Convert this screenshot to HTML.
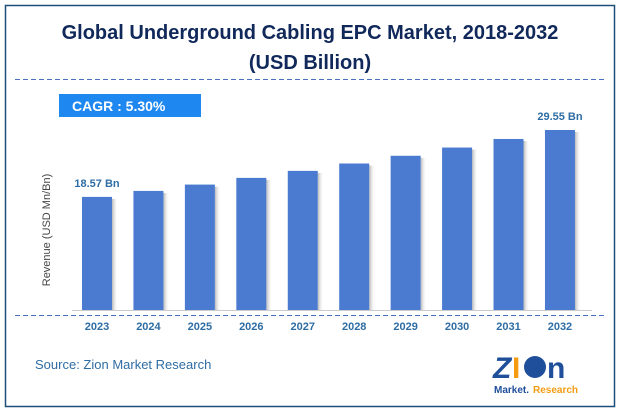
<!DOCTYPE html>
<html><head><meta charset="utf-8"><style>
body{margin:0;background:#fff;width:620px;height:412px;overflow:hidden;font-family:"Liberation Sans",sans-serif}
</style></head><body>
<svg width="620" height="412" viewBox="0 0 620 412">
<defs><linearGradient id="sh" x1="0" x2="1"><stop offset="0" stop-color="#888" stop-opacity="0.6"/><stop offset="1" stop-color="#fff" stop-opacity="0"/></linearGradient></defs>
<rect x="5.5" y="5.5" width="609" height="401" fill="#fff" stroke="#1f4e79" stroke-width="1.5"/>
<text x="310" y="39" text-anchor="middle" font-size="20" font-weight="bold" fill="#10285a">Global Underground Cabling EPC Market, 2018-2032</text>
<text x="310" y="69" text-anchor="middle" font-size="20" font-weight="bold" fill="#10285a">(USD Billion)</text>
<line x1="15" y1="79.5" x2="605" y2="79.5" stroke="#4a72c4" stroke-dasharray="5,3"/>
<rect x="59" y="94" width="142" height="23" fill="#1e88f0"/>
<text x="72" y="111" font-size="14" font-weight="bold" fill="#fff">CAGR :  5.30%</text>
<text transform="translate(50,230) rotate(-90)" text-anchor="middle" font-size="11" fill="#444">Revenue (USD Mn/Bn)</text>
<g id="bars"></g>
<line x1="72" y1="310.5" x2="592" y2="310.5" stroke="#ccc"/>
<line x1="15" y1="315.5" x2="605" y2="315.5" stroke="#4a72c4" stroke-dasharray="5,3"/>
<g id="labels"></g>
<text x="35" y="369" font-size="13" fill="#2e6da4">Source: Zion Market Research</text>
<g>
<text x="493" y="378" font-size="30" font-weight="bold" fill="#1f4e9a" font-style="italic">Z</text>
<text x="512" y="378" font-size="30" font-weight="bold" fill="#f39c12">I</text>
<circle cx="535" cy="367" r="11" fill="#1f4e9a"/>
<text x="547" y="378" font-size="30" font-weight="bold" fill="#1f4e9a">n</text>
<text x="494" y="393" font-size="10" font-weight="bold" fill="#1f4e9a">Market.</text>
<text x="533" y="393" font-size="10" font-weight="bold" fill="#f39c12">Research</text>
</g>
</svg>
<script>
const years=["2023","2024","2025","2026","2027","2028","2029","2030","2031","2032"];
const values=[18.57,19.55,20.59,21.69,22.84,24.05,25.32,26.67,28.08,29.55];
const valueLabels=["18.57 Bn","","","","","","","","","29.55 Bn"];
const NS="http://www.w3.org/2000/svg";
const base=310,k=180/29.55,x0=97,step=51.44,bw=30;
const xs=i=>x0+i*step, ys=v=>base-v*k;
const gb=document.getElementById('bars'),gl=document.getElementById('labels');
years.forEach((y,i)=>{
 const cx=xs(i),top=ys(values[i]);
 const s=document.createElementNS(NS,'rect');
 s.setAttribute('x',cx+bw/2);s.setAttribute('y',top+2);s.setAttribute('width',6);s.setAttribute('height',base-top-2);s.setAttribute('fill','url(#sh)');
 
 
 gb.appendChild(s);
 const r=document.createElementNS(NS,'rect');
 r.setAttribute('x',cx-bw/2);r.setAttribute('y',top);r.setAttribute('width',bw);r.setAttribute('height',base-top);r.setAttribute('fill','#4a7bd1');
 
 
 gb.appendChild(r);
 const t=document.createElementNS(NS,'text');
 t.setAttribute('x',cx);t.setAttribute('y',330);t.setAttribute('text-anchor','middle');t.setAttribute('font-size','11');t.setAttribute('font-weight','bold');t.setAttribute('fill','#2e6da4');
 t.textContent=y;
 
 
 gl.appendChild(t);
 if(valueLabels[i]){
  const v=document.createElementNS(NS,'text');
  v.setAttribute('x',cx);v.setAttribute('y',top-10);v.setAttribute('text-anchor','middle');v.setAttribute('font-size','11');v.setAttribute('font-weight','bold');v.setAttribute('fill','#2e6da4');
  v.textContent=valueLabels[i];
  
  
  gl.appendChild(v);
 }
});
</script>
</body></html>
